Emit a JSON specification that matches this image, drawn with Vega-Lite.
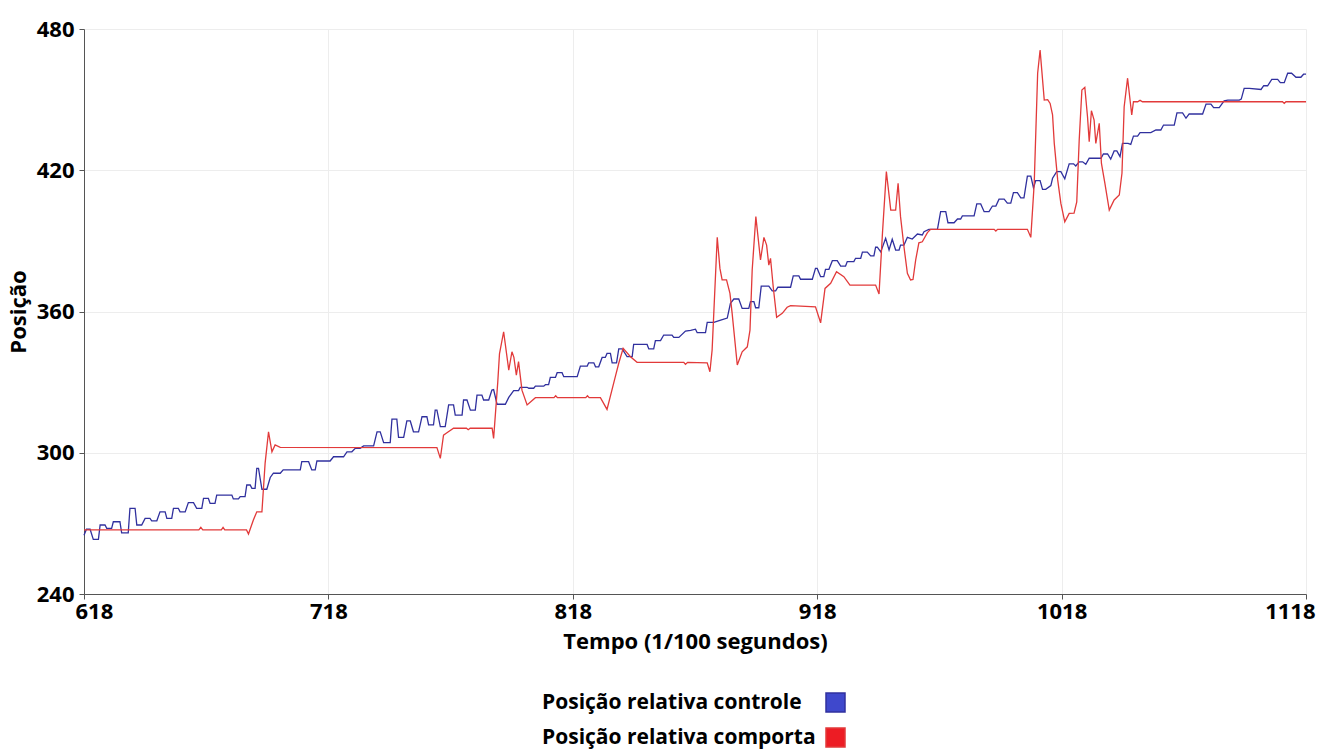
{
  "$schema": "https://vega.github.io/schema/vega-lite/v6.json",
  "autosize": {"type": "none"},
  "padding": {"left": 84, "top": 29, "right": 17, "bottom": 155},
  "width": 1222,
  "height": 565,
  "background": "#ffffff",
  "config": {
    "view": {"stroke": null},
    "axis": {
      "labelFont": "Open Sans", "labelFontWeight": "bold", "labelFontSize": 22, "labelColor": "#000000",
      "titleFont": "Open Sans", "titleFontWeight": "bold", "titleFontSize": 22, "titleColor": "#000000",
      "domainColor": "#555555", "tickColor": "#555555", "gridColor": "#ededed", "tickSize": 5
    }
  },
  "data": {"values": [
    {"t":618,"v":265,"s":"controle"},{"t":619,"v":267.5,"s":"controle"},{"t":620.5,"v":267.5,"s":"controle"},{"t":621.8,"v":263.2,"s":"controle"},{"t":623.9,"v":263.2,"s":"controle"},{"t":624.6,"v":269.3,"s":"controle"},{"t":626.6,"v":269.3,"s":"controle"},{"t":627.3,"v":267.9,"s":"controle"},{"t":629.3,"v":267.9,"s":"controle"},{"t":630,"v":270.7,"s":"controle"},{"t":632.7,"v":270.7,"s":"controle"},{"t":633.4,"v":266,"s":"controle"},{"t":636.1,"v":266,"s":"controle"},{"t":636.8,"v":276.4,"s":"controle"},{"t":638.9,"v":276.4,"s":"controle"},{"t":639.6,"v":269.3,"s":"controle"},{"t":641.6,"v":269.3,"s":"controle"},{"t":643,"v":272.1,"s":"controle"},{"t":645,"v":272.1,"s":"controle"},{"t":645.7,"v":271.1,"s":"controle"},{"t":647.8,"v":271.1,"s":"controle"},{"t":649.1,"v":274.9,"s":"controle"},{"t":651.2,"v":274.9,"s":"controle"},{"t":651.9,"v":272.1,"s":"controle"},{"t":653.9,"v":272.1,"s":"controle"},{"t":654.6,"v":276.4,"s":"controle"},{"t":656.6,"v":276.4,"s":"controle"},{"t":657.3,"v":274.9,"s":"controle"},{"t":659.4,"v":274.9,"s":"controle"},{"t":660.7,"v":278.8,"s":"controle"},{"t":662.8,"v":278.8,"s":"controle"},{"t":664.1,"v":276.4,"s":"controle"},{"t":666.2,"v":276.4,"s":"controle"},{"t":666.9,"v":280.6,"s":"controle"},{"t":668.9,"v":280.6,"s":"controle"},{"t":669.6,"v":278.5,"s":"controle"},{"t":671.6,"v":278.5,"s":"controle"},{"t":672.3,"v":282,"s":"controle"},{"t":678.5,"v":282,"s":"controle"},{"t":679.1,"v":280.4,"s":"controle"},{"t":681.2,"v":280.4,"s":"controle"},{"t":681.9,"v":281.4,"s":"controle"},{"t":683.9,"v":281.4,"s":"controle"},{"t":684.6,"v":286.3,"s":"controle"},{"t":686,"v":286.3,"s":"controle"},{"t":686.7,"v":284.9,"s":"controle"},{"t":688,"v":284.9,"s":"controle"},{"t":688.7,"v":293.4,"s":"controle"},{"t":689.4,"v":293.4,"s":"controle"},{"t":690.8,"v":284.5,"s":"controle"},{"t":692.8,"v":284.5,"s":"controle"},{"t":694.2,"v":289.5,"s":"controle"},{"t":695.5,"v":291.3,"s":"controle"},{"t":698.3,"v":291.3,"s":"controle"},{"t":699.5,"v":292.7,"s":"controle"},{"t":706.5,"v":292.7,"s":"controle"},{"t":707.1,"v":296.2,"s":"controle"},{"t":709.9,"v":296.2,"s":"controle"},{"t":711.2,"v":292.7,"s":"controle"},{"t":712.6,"v":292.7,"s":"controle"},{"t":713.3,"v":296.5,"s":"controle"},{"t":718.7,"v":296.5,"s":"controle"},{"t":720.1,"v":298.3,"s":"controle"},{"t":724.2,"v":298.3,"s":"controle"},{"t":725.6,"v":300.4,"s":"controle"},{"t":727.6,"v":300.4,"s":"controle"},{"t":729,"v":301.9,"s":"controle"},{"t":731,"v":301.9,"s":"controle"},{"t":732.4,"v":302.9,"s":"controle"},{"t":736.5,"v":302.9,"s":"controle"},{"t":737.9,"v":308.9,"s":"controle"},{"t":739.2,"v":308.9,"s":"controle"},{"t":740.6,"v":304.3,"s":"controle"},{"t":743.3,"v":304.3,"s":"controle"},{"t":744,"v":314.3,"s":"controle"},{"t":746,"v":314.3,"s":"controle"},{"t":746.7,"v":306.5,"s":"controle"},{"t":748.8,"v":306.5,"s":"controle"},{"t":750.1,"v":313.5,"s":"controle"},{"t":751.5,"v":313.5,"s":"controle"},{"t":752.8,"v":308.9,"s":"controle"},{"t":754.9,"v":308.9,"s":"controle"},{"t":756.3,"v":315.3,"s":"controle"},{"t":758.3,"v":315.3,"s":"controle"},{"t":759,"v":311.8,"s":"controle"},{"t":761,"v":311.8,"s":"controle"},{"t":761.7,"v":318.1,"s":"controle"},{"t":762.4,"v":318.1,"s":"controle"},{"t":763.8,"v":311.1,"s":"controle"},{"t":765.8,"v":311.1,"s":"controle"},{"t":767.2,"v":320.3,"s":"controle"},{"t":769.2,"v":320.3,"s":"controle"},{"t":769.9,"v":316,"s":"controle"},{"t":772.7,"v":316,"s":"controle"},{"t":773.3,"v":322.4,"s":"controle"},{"t":774.7,"v":322.4,"s":"controle"},{"t":776.1,"v":318.1,"s":"controle"},{"t":778.1,"v":318.1,"s":"controle"},{"t":778.8,"v":324.5,"s":"controle"},{"t":780.8,"v":324.5,"s":"controle"},{"t":781.5,"v":322.4,"s":"controle"},{"t":783.6,"v":322.4,"s":"controle"},{"t":784.9,"v":326.6,"s":"controle"},{"t":785.6,"v":326.8,"s":"controle"},{"t":787,"v":320.6,"s":"controle"},{"t":790.4,"v":320.6,"s":"controle"},{"t":791.8,"v":323.5,"s":"controle"},{"t":793.8,"v":326.4,"s":"controle"},{"t":795.8,"v":326.4,"s":"controle"},{"t":796.5,"v":327.8,"s":"controle"},{"t":799.3,"v":327.8,"s":"controle"},{"t":800,"v":327.4,"s":"controle"},{"t":802,"v":327.4,"s":"controle"},{"t":802.7,"v":328.3,"s":"controle"},{"t":806.1,"v":328.3,"s":"controle"},{"t":806.8,"v":328.9,"s":"controle"},{"t":808.1,"v":328.9,"s":"controle"},{"t":808.8,"v":332,"s":"controle"},{"t":810.9,"v":332,"s":"controle"},{"t":811.6,"v":334,"s":"controle"},{"t":813.6,"v":334,"s":"controle"},{"t":814.3,"v":332.3,"s":"controle"},{"t":819.8,"v":332.3,"s":"controle"},{"t":821.1,"v":336.8,"s":"controle"},{"t":823.9,"v":336.8,"s":"controle"},{"t":824.5,"v":338.2,"s":"controle"},{"t":826.6,"v":338.2,"s":"controle"},{"t":827.3,"v":336.5,"s":"controle"},{"t":828.6,"v":336.5,"s":"controle"},{"t":830,"v":340.5,"s":"controle"},{"t":831.3,"v":340.5,"s":"controle"},{"t":832,"v":342.2,"s":"controle"},{"t":833.4,"v":342.2,"s":"controle"},{"t":834.1,"v":338.2,"s":"controle"},{"t":835.9,"v":338.2,"s":"controle"},{"t":836.8,"v":344.1,"s":"controle"},{"t":838.2,"v":344.1,"s":"controle"},{"t":840.2,"v":340.8,"s":"controle"},{"t":842.3,"v":340.8,"s":"controle"},{"t":842.9,"v":346,"s":"controle"},{"t":848.4,"v":346,"s":"controle"},{"t":849.1,"v":344.1,"s":"controle"},{"t":851.1,"v":344.1,"s":"controle"},{"t":851.8,"v":347.6,"s":"controle"},{"t":853.9,"v":347.6,"s":"controle"},{"t":855.2,"v":350,"s":"controle"},{"t":858.6,"v":350,"s":"controle"},{"t":859.3,"v":349,"s":"controle"},{"t":861.4,"v":349,"s":"controle"},{"t":864.1,"v":351.7,"s":"controle"},{"t":866.2,"v":352,"s":"controle"},{"t":868.2,"v":352.5,"s":"controle"},{"t":868.9,"v":351,"s":"controle"},{"t":872.3,"v":351,"s":"controle"},{"t":873,"v":355.4,"s":"controle"},{"t":875.7,"v":355.4,"s":"controle"},{"t":878.5,"v":356.3,"s":"controle"},{"t":881.2,"v":357.2,"s":"controle"},{"t":882.5,"v":363.5,"s":"controle"},{"t":883.9,"v":365.3,"s":"controle"},{"t":885.9,"v":365.3,"s":"controle"},{"t":887.3,"v":361.3,"s":"controle"},{"t":890,"v":361.3,"s":"controle"},{"t":890.7,"v":364.2,"s":"controle"},{"t":892.1,"v":364.2,"s":"controle"},{"t":892.8,"v":361.6,"s":"controle"},{"t":894.1,"v":361.6,"s":"controle"},{"t":895.1,"v":370.8,"s":"controle"},{"t":898.2,"v":370.8,"s":"controle"},{"t":899.6,"v":368.8,"s":"controle"},{"t":901,"v":368.8,"s":"controle"},{"t":901.9,"v":370.3,"s":"controle"},{"t":907.1,"v":370.3,"s":"controle"},{"t":908.2,"v":375.1,"s":"controle"},{"t":910.5,"v":375.1,"s":"controle"},{"t":911.2,"v":373.7,"s":"controle"},{"t":916,"v":373.7,"s":"controle"},{"t":917.3,"v":378.3,"s":"controle"},{"t":918,"v":378.3,"s":"controle"},{"t":919.4,"v":374.8,"s":"controle"},{"t":920.7,"v":374.8,"s":"controle"},{"t":921.4,"v":377.9,"s":"controle"},{"t":922.8,"v":377.9,"s":"controle"},{"t":924.2,"v":381.6,"s":"controle"},{"t":926.2,"v":381.6,"s":"controle"},{"t":927.6,"v":379.3,"s":"controle"},{"t":929.6,"v":379.3,"s":"controle"},{"t":930.3,"v":381.2,"s":"controle"},{"t":933,"v":381.2,"s":"controle"},{"t":933.7,"v":382.6,"s":"controle"},{"t":935.8,"v":382.6,"s":"controle"},{"t":936.5,"v":385.2,"s":"controle"},{"t":938.5,"v":385.2,"s":"controle"},{"t":939.9,"v":383.6,"s":"controle"},{"t":941.2,"v":383.6,"s":"controle"},{"t":941.9,"v":387.3,"s":"controle"},{"t":942.6,"v":387.3,"s":"controle"},{"t":944,"v":385.3,"s":"controle"},{"t":946,"v":391.1,"s":"controle"},{"t":947.4,"v":386.1,"s":"controle"},{"t":948.7,"v":390.7,"s":"controle"},{"t":950.1,"v":386.1,"s":"controle"},{"t":951.5,"v":386.1,"s":"controle"},{"t":952.1,"v":388.2,"s":"controle"},{"t":953.5,"v":388.2,"s":"controle"},{"t":954.9,"v":391.5,"s":"controle"},{"t":956.9,"v":390.8,"s":"controle"},{"t":959,"v":392.9,"s":"controle"},{"t":961,"v":392.5,"s":"controle"},{"t":961.7,"v":393.9,"s":"controle"},{"t":963.7,"v":394.9,"s":"controle"},{"t":967.2,"v":394.9,"s":"controle"},{"t":968.5,"v":402.4,"s":"controle"},{"t":970.6,"v":402.4,"s":"controle"},{"t":971.5,"v":397.7,"s":"controle"},{"t":974,"v":397.7,"s":"controle"},{"t":975.4,"v":399.3,"s":"controle"},{"t":976.7,"v":399.3,"s":"controle"},{"t":977.4,"v":400.6,"s":"controle"},{"t":982.2,"v":400.6,"s":"controle"},{"t":983.3,"v":405.7,"s":"controle"},{"t":984.9,"v":405.7,"s":"controle"},{"t":986.3,"v":402.4,"s":"controle"},{"t":988.3,"v":402.4,"s":"controle"},{"t":989.7,"v":404.8,"s":"controle"},{"t":991.1,"v":404.8,"s":"controle"},{"t":992.4,"v":407.7,"s":"controle"},{"t":994.5,"v":407.7,"s":"controle"},{"t":995.8,"v":406,"s":"controle"},{"t":997.2,"v":406,"s":"controle"},{"t":998.3,"v":410.5,"s":"controle"},{"t":999.9,"v":410.5,"s":"controle"},{"t":1001.3,"v":408.3,"s":"controle"},{"t":1002.6,"v":408.3,"s":"controle"},{"t":1004,"v":417.5,"s":"controle"},{"t":1005.4,"v":417.5,"s":"controle"},{"t":1006.5,"v":412.5,"s":"controle"},{"t":1007.4,"v":415.6,"s":"controle"},{"t":1009.2,"v":415.6,"s":"controle"},{"t":1010.2,"v":411.9,"s":"controle"},{"t":1011.5,"v":411.9,"s":"controle"},{"t":1013.6,"v":413.5,"s":"controle"},{"t":1014.3,"v":416.6,"s":"controle"},{"t":1016,"v":419.4,"s":"controle"},{"t":1017.7,"v":419.4,"s":"controle"},{"t":1019.3,"v":416.4,"s":"controle"},{"t":1021.1,"v":422.7,"s":"controle"},{"t":1022.9,"v":422.7,"s":"controle"},{"t":1023.8,"v":421.8,"s":"controle"},{"t":1025.2,"v":423.6,"s":"controle"},{"t":1026.6,"v":423.6,"s":"controle"},{"t":1027.9,"v":422.5,"s":"controle"},{"t":1029.3,"v":425.1,"s":"controle"},{"t":1034.1,"v":425.1,"s":"controle"},{"t":1035.1,"v":426.9,"s":"controle"},{"t":1036.8,"v":426.9,"s":"controle"},{"t":1038.1,"v":424.7,"s":"controle"},{"t":1039.5,"v":428.2,"s":"controle"},{"t":1040.6,"v":428.2,"s":"controle"},{"t":1041.9,"v":425.8,"s":"controle"},{"t":1042.9,"v":431.4,"s":"controle"},{"t":1045.2,"v":431.4,"s":"controle"},{"t":1046.3,"v":431,"s":"controle"},{"t":1047.4,"v":434.5,"s":"controle"},{"t":1049.1,"v":434.5,"s":"controle"},{"t":1050.1,"v":436,"s":"controle"},{"t":1054.5,"v":436,"s":"controle"},{"t":1056.6,"v":437.1,"s":"controle"},{"t":1058.6,"v":437.1,"s":"controle"},{"t":1059.7,"v":439.2,"s":"controle"},{"t":1064.1,"v":439.2,"s":"controle"},{"t":1065.2,"v":444.4,"s":"controle"},{"t":1067.5,"v":444.4,"s":"controle"},{"t":1068.9,"v":442.1,"s":"controle"},{"t":1070.2,"v":443.9,"s":"controle"},{"t":1075.7,"v":443.9,"s":"controle"},{"t":1077.1,"v":448.1,"s":"controle"},{"t":1079.1,"v":448.1,"s":"controle"},{"t":1080.2,"v":446.6,"s":"controle"},{"t":1082.5,"v":446.6,"s":"controle"},{"t":1084.5,"v":449.5,"s":"controle"},{"t":1086,"v":449.8,"s":"controle"},{"t":1090.7,"v":449.8,"s":"controle"},{"t":1091.5,"v":450.2,"s":"controle"},{"t":1092.7,"v":454.8,"s":"controle"},{"t":1094.8,"v":454.8,"s":"controle"},{"t":1099.6,"v":454.3,"s":"controle"},{"t":1100.7,"v":455.9,"s":"controle"},{"t":1102.3,"v":455.9,"s":"controle"},{"t":1104,"v":458.6,"s":"controle"},{"t":1106.4,"v":458.6,"s":"controle"},{"t":1107.5,"v":457.2,"s":"controle"},{"t":1109.1,"v":457.2,"s":"controle"},{"t":1110.5,"v":461.2,"s":"controle"},{"t":1112.1,"v":461.2,"s":"controle"},{"t":1113.9,"v":459.5,"s":"controle"},{"t":1115.9,"v":459.5,"s":"controle"},{"t":1117,"v":460.8,"s":"controle"},{"t":1118,"v":460.8,"s":"controle"},
    {"t":618,"v":267.2,"s":"comporta"},{"t":665,"v":267.2,"s":"comporta"},{"t":665.8,"v":268.3,"s":"comporta"},{"t":666.6,"v":267.2,"s":"comporta"},{"t":674.2,"v":267.2,"s":"comporta"},{"t":674.9,"v":268.3,"s":"comporta"},{"t":675.6,"v":267.2,"s":"comporta"},{"t":684.5,"v":267.2,"s":"comporta"},{"t":685.3,"v":265.5,"s":"comporta"},{"t":687.3,"v":271.4,"s":"comporta"},{"t":688.7,"v":274.9,"s":"comporta"},{"t":690.8,"v":274.9,"s":"comporta"},{"t":692.1,"v":295.5,"s":"comporta"},{"t":693.5,"v":308.9,"s":"comporta"},{"t":694.9,"v":300.4,"s":"comporta"},{"t":696.2,"v":303.3,"s":"comporta"},{"t":698.3,"v":302.3,"s":"comporta"},{"t":762.4,"v":302.2,"s":"comporta"},{"t":763.8,"v":297.6,"s":"comporta"},{"t":765.1,"v":307.5,"s":"comporta"},{"t":766.5,"v":308.5,"s":"comporta"},{"t":769.2,"v":310.4,"s":"comporta"},{"t":774.5,"v":310.4,"s":"comporta"},{"t":775.2,"v":309.8,"s":"comporta"},{"t":776,"v":310.4,"s":"comporta"},{"t":785,"v":310.4,"s":"comporta"},{"t":785.6,"v":306.1,"s":"comporta"},{"t":787.3,"v":330,"s":"comporta"},{"t":788,"v":342,"s":"comporta"},{"t":789.7,"v":351.4,"s":"comporta"},{"t":791.8,"v":335.1,"s":"comporta"},{"t":793.1,"v":342.9,"s":"comporta"},{"t":793.9,"v":340.5,"s":"comporta"},{"t":794.9,"v":333,"s":"comporta"},{"t":795.8,"v":338.7,"s":"comporta"},{"t":797.2,"v":326.6,"s":"comporta"},{"t":799.3,"v":320.3,"s":"comporta"},{"t":802.7,"v":323.4,"s":"comporta"},{"t":810.3,"v":323.4,"s":"comporta"},{"t":811,"v":324.2,"s":"comporta"},{"t":811.7,"v":323.4,"s":"comporta"},{"t":823.3,"v":323.4,"s":"comporta"},{"t":824,"v":324.2,"s":"comporta"},{"t":824.7,"v":323.4,"s":"comporta"},{"t":829.3,"v":323.4,"s":"comporta"},{"t":832,"v":318.4,"s":"comporta"},{"t":835.4,"v":332.3,"s":"comporta"},{"t":836.8,"v":338,"s":"comporta"},{"t":838.6,"v":344.4,"s":"comporta"},{"t":841.6,"v":340.8,"s":"comporta"},{"t":844.3,"v":338.4,"s":"comporta"},{"t":863.4,"v":338.4,"s":"comporta"},{"t":864.1,"v":337.6,"s":"comporta"},{"t":865,"v":338.4,"s":"comporta"},{"t":873,"v":338.2,"s":"comporta"},{"t":874.1,"v":334.4,"s":"comporta"},{"t":875,"v":343.6,"s":"comporta"},{"t":877.1,"v":391.5,"s":"comporta"},{"t":878.2,"v":378.3,"s":"comporta"},{"t":879.1,"v":373.4,"s":"comporta"},{"t":880.9,"v":373.4,"s":"comporta"},{"t":882.3,"v":367.7,"s":"comporta"},{"t":883.2,"v":359.2,"s":"comporta"},{"t":885.3,"v":337.3,"s":"comporta"},{"t":887.3,"v":342.9,"s":"comporta"},{"t":889.4,"v":345,"s":"comporta"},{"t":890.5,"v":352.1,"s":"comporta"},{"t":891.4,"v":377.6,"s":"comporta"},{"t":892.9,"v":400.3,"s":"comporta"},{"t":894.8,"v":381.9,"s":"comporta"},{"t":896.2,"v":391.5,"s":"comporta"},{"t":897.3,"v":388.2,"s":"comporta"},{"t":898.2,"v":379.7,"s":"comporta"},{"t":898.9,"v":382.6,"s":"comporta"},{"t":900,"v":370.5,"s":"comporta"},{"t":901.4,"v":357.5,"s":"comporta"},{"t":903.7,"v":359.2,"s":"comporta"},{"t":905.7,"v":361.8,"s":"comporta"},{"t":907.1,"v":362.5,"s":"comporta"},{"t":917.3,"v":362,"s":"comporta"},{"t":919.4,"v":355.2,"s":"comporta"},{"t":921.2,"v":369.8,"s":"comporta"},{"t":923.5,"v":372,"s":"comporta"},{"t":925.9,"v":376.9,"s":"comporta"},{"t":928.9,"v":374.8,"s":"comporta"},{"t":931.4,"v":371.2,"s":"comporta"},{"t":941.9,"v":371.2,"s":"comporta"},{"t":943.3,"v":367.4,"s":"comporta"},{"t":944.7,"v":393.2,"s":"comporta"},{"t":946.3,"v":419.4,"s":"comporta"},{"t":948.1,"v":403.1,"s":"comporta"},{"t":950.1,"v":403.1,"s":"comporta"},{"t":951.1,"v":414.5,"s":"comporta"},{"t":952.1,"v":400.3,"s":"comporta"},{"t":953.5,"v":387.5,"s":"comporta"},{"t":954.9,"v":376.2,"s":"comporta"},{"t":956.2,"v":373.4,"s":"comporta"},{"t":957.2,"v":373.6,"s":"comporta"},{"t":958.3,"v":381.9,"s":"comporta"},{"t":959.6,"v":389.2,"s":"comporta"},{"t":961,"v":389.6,"s":"comporta"},{"t":963.1,"v":393.5,"s":"comporta"},{"t":964.4,"v":394.9,"s":"comporta"},{"t":990.4,"v":394.9,"s":"comporta"},{"t":991.1,"v":394.2,"s":"comporta"},{"t":991.8,"v":394.9,"s":"comporta"},{"t":1004,"v":394.9,"s":"comporta"},{"t":1005.4,"v":391.5,"s":"comporta"},{"t":1006.8,"v":414.5,"s":"comporta"},{"t":1008.2,"v":461.2,"s":"comporta"},{"t":1009.2,"v":471.1,"s":"comporta"},{"t":1010.9,"v":449.8,"s":"comporta"},{"t":1012.3,"v":450,"s":"comporta"},{"t":1013.3,"v":448.4,"s":"comporta"},{"t":1014.3,"v":443.5,"s":"comporta"},{"t":1015,"v":431.4,"s":"comporta"},{"t":1016.4,"v":415.9,"s":"comporta"},{"t":1017.7,"v":405.9,"s":"comporta"},{"t":1019.3,"v":398.1,"s":"comporta"},{"t":1021.1,"v":401.7,"s":"comporta"},{"t":1023.1,"v":401.8,"s":"comporta"},{"t":1024.2,"v":406.6,"s":"comporta"},{"t":1025.2,"v":432.8,"s":"comporta"},{"t":1026.3,"v":454.1,"s":"comporta"},{"t":1027.5,"v":455.2,"s":"comporta"},{"t":1028.6,"v":442.7,"s":"comporta"},{"t":1029.3,"v":432.1,"s":"comporta"},{"t":1030.2,"v":445.3,"s":"comporta"},{"t":1031.3,"v":441.3,"s":"comporta"},{"t":1032,"v":431.4,"s":"comporta"},{"t":1033.4,"v":439.9,"s":"comporta"},{"t":1034.3,"v":422.9,"s":"comporta"},{"t":1035.7,"v":414.5,"s":"comporta"},{"t":1037.5,"v":403.1,"s":"comporta"},{"t":1039.5,"v":407.4,"s":"comporta"},{"t":1041.6,"v":409.5,"s":"comporta"},{"t":1042.7,"v":418.7,"s":"comporta"},{"t":1043.6,"v":447,"s":"comporta"},{"t":1045,"v":459.1,"s":"comporta"},{"t":1046.1,"v":449,"s":"comporta"},{"t":1046.7,"v":443.5,"s":"comporta"},{"t":1047.4,"v":449.1,"s":"comporta"},{"t":1049.1,"v":449.1,"s":"comporta"},{"t":1050.1,"v":449.7,"s":"comporta"},{"t":1051.1,"v":449.1,"s":"comporta"},{"t":1108.4,"v":449.1,"s":"comporta"},{"t":1109.1,"v":448.4,"s":"comporta"},{"t":1109.8,"v":449.1,"s":"comporta"},{"t":1118,"v":449.1,"s":"comporta"}
  ]},
  "mark": {"type": "line", "strokeWidth": 1.3, "interpolate": "linear"},
  "encoding": {
    "x": {
      "field": "t", "type": "quantitative",
      "scale": {"domain": [618, 1118], "nice": false, "zero": false},
      "axis": {"values": [618, 718, 818, 918, 1018, 1118], "format": "d", "title": "Tempo (1/100 segundos)", "labelFlush": true, "labelFlushOffset": 9, "labelPadding": 2, "titlePadding": 9}
    },
    "y": {
      "field": "v", "type": "quantitative",
      "scale": {"domain": [240, 480], "nice": false, "zero": false},
      "axis": {"values": [240, 300, 360, 420, 480], "format": "d", "title": "Posição", "labelPadding": 5, "titlePadding": 6}
    },
    "color": {
      "field": "s", "type": "nominal",
      "scale": {"domain": ["controle", "comporta"], "range": ["#30309e", "#e23a3a"]},
      "legend": {
        "orient": "none", "legendX": 457, "legendY": 663, "direction": "vertical", "title": null,
        "labelExpr": "'Posição relativa ' + datum.label",
        "labelFont": "Open Sans", "labelFontWeight": "bold", "labelFontSize": 21, "labelColor": "#000000", "labelLimit": 500,
        "symbolType": "square", "symbolSize": 361, "symbolOffset": 284, "labelOffset": -304, "rowPadding": 10,
        "encode": {"symbols": {"update": {
          "fill": {"signal": "datum.value === 'controle' ? '#3f48cc' : '#ed1c24'"},
          "stroke": {"value": "transparent"},
          "fillOpacity": {"value": 1}
        }}}
      }
    }
  }
}
